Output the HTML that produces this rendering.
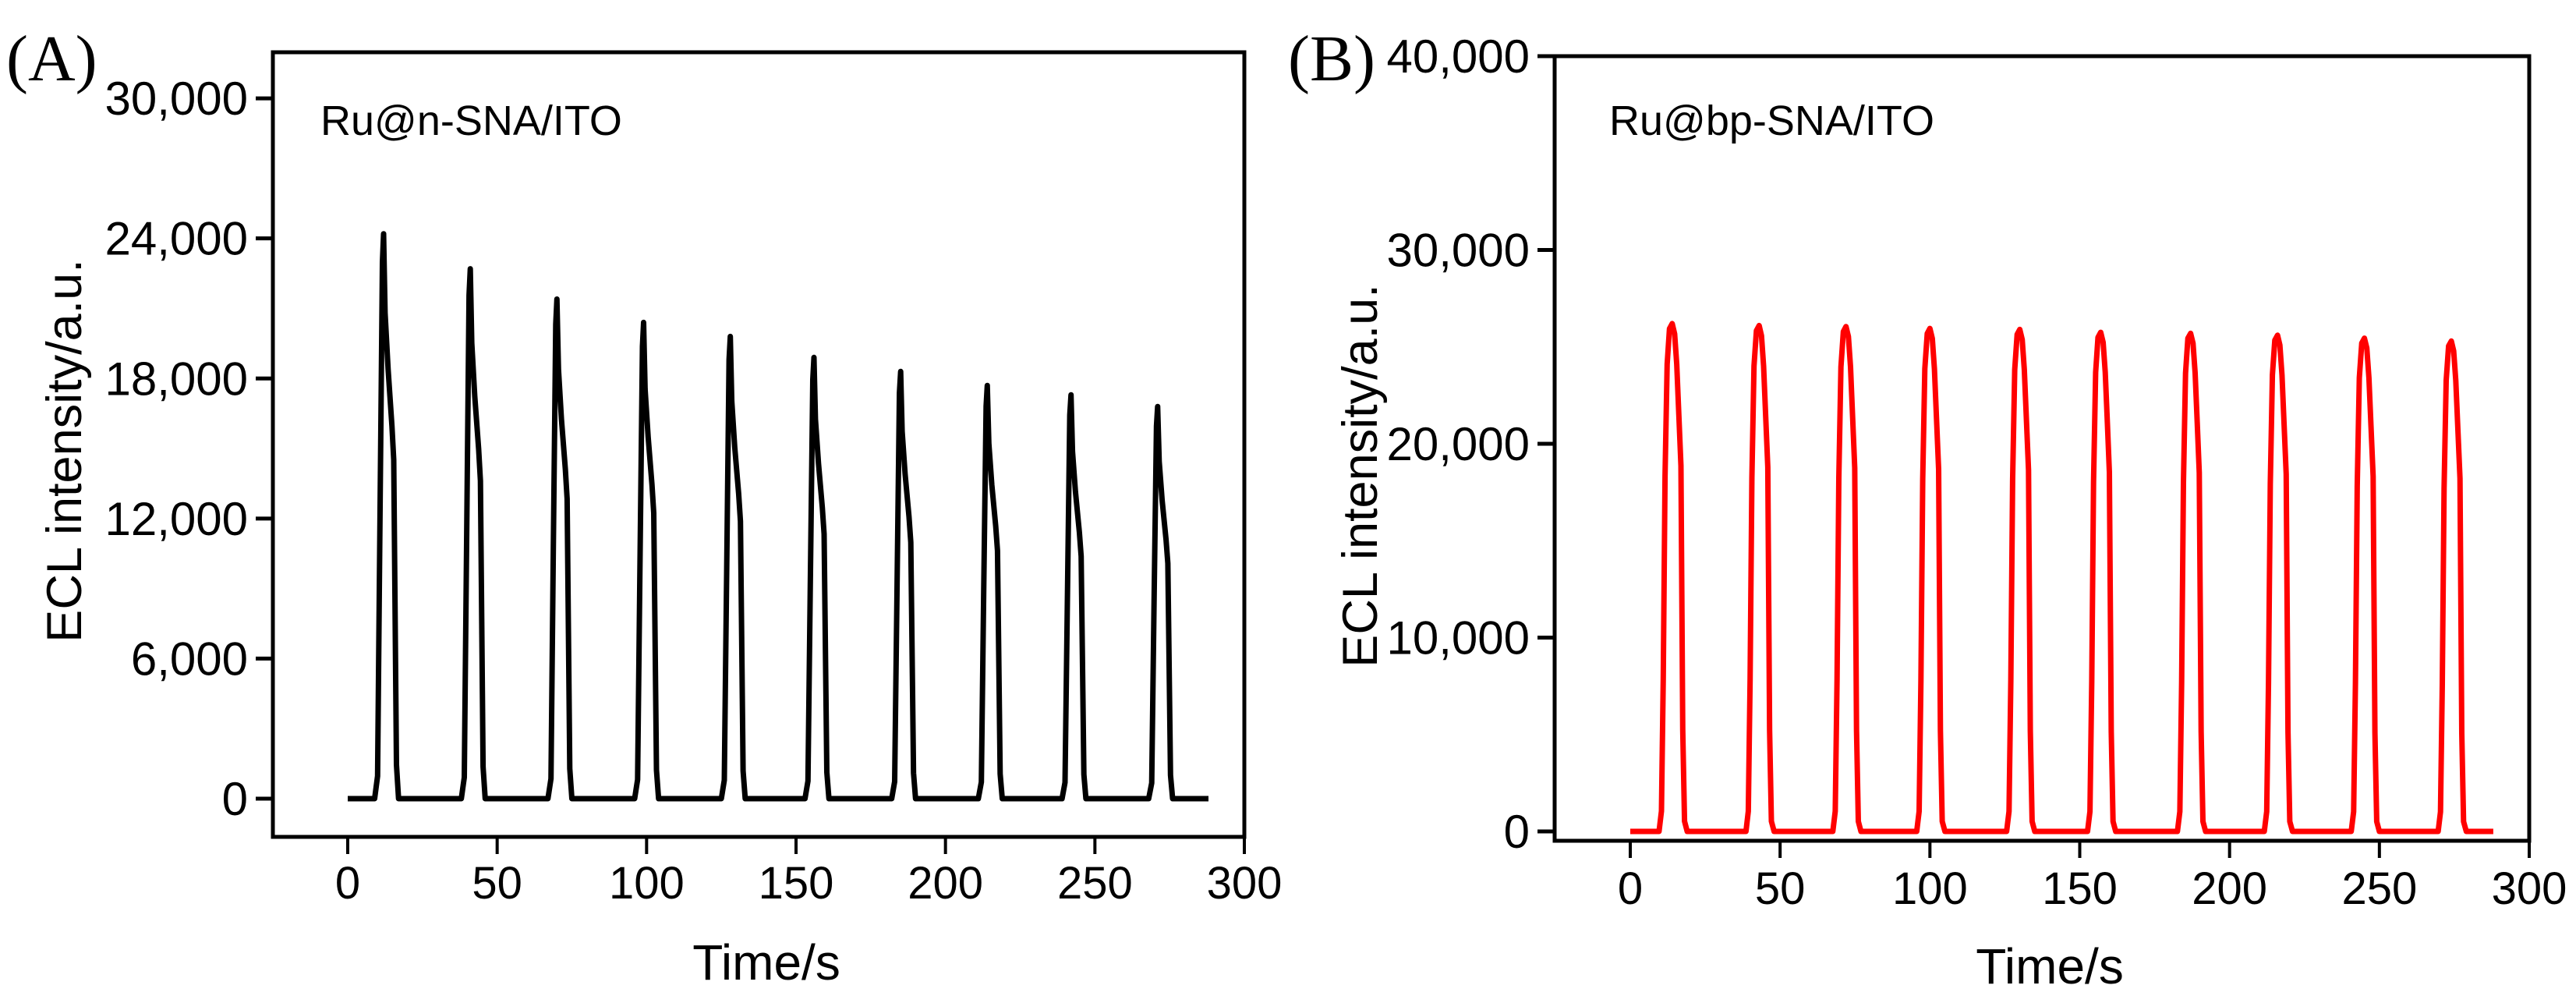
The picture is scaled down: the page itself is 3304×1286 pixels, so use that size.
<!DOCTYPE html>
<html><head><meta charset="utf-8"><style>
html,body{margin:0;padding:0;background:#fff;}
svg{display:block;font-family:"Liberation Sans",sans-serif;}
</style></head><body>
<svg id="fig" width="3304" height="1286" viewBox="0 0 3304 1286">
<rect width="3304" height="1286" fill="#fff"/>
<g id="pA"></g>
<g id="pB"></g>
</svg>
<script>
// ---- data ----
const xTicks = [0, 50, 100, 150, 200, 250, 300];
const yTicksA = [0, 6000, 12000, 18000, 24000, 30000];
const yTicksB = [0, 10000, 20000, 30000, 40000];
const peakTimesA = [12, 41, 70, 99, 128, 156, 185, 214, 242, 271];
const peakHeightsA = [24200, 22700, 21400, 20400, 19800, 18900, 18300, 17700, 17300, 16800];
const peakTimesB = [14, 43, 72, 100, 130, 157, 187, 216, 245, 274];
const peakHeightsB = [26200, 26100, 26050, 25950, 25900, 25750, 25700, 25600, 25450, 25300];
const tStart = 0, tEnd = 288;

const NS = "http://www.w3.org/2000/svg";
function mk(parent, tag, attrs, text){
  const e = document.createElementNS(NS, tag);
  for (const k in attrs) e.setAttribute(k, attrs[k]);
  if (text !== undefined) e.textContent = text;
  parent.appendChild(e);
  return e;
}
function fmt(v){ return v.toLocaleString("en-US"); }

// peak shape templates (dt seconds, fraction of peak)
const shapeA = [[-3,0],[-2,0.04],[-1.2,0.5],[-0.4,0.95],[0,1],[0.5,0.86],[1.5,0.76],[2.8,0.66],[3.4,0.6],[4.3,0.06],[5,0]];
const shapeB = [[-4.4,0],[-3.6,0.04],[-3,0.3],[-2.4,0.7],[-1.7,0.92],[-0.9,0.99],[0,1],[0.8,0.98],[1.5,0.92],[2.2,0.82],[2.9,0.72],[3.5,0.2],[4.1,0.02],[5,0]];

function panel(gid, cfg){
  const g = document.getElementById(gid);
  const X = t => cfg.x0 + (t - 0) * (cfg.x300 - cfg.x0) / 300;
  const Y = v => cfg.y0 - v * cfg.pxPer;
  const box = mk(g, "rect", {x:cfg.left, y:cfg.top, width:cfg.right-cfg.left, height:cfg.bottom-cfg.top, fill:"none", stroke:"#000", "stroke-width":5});
  
  
  xTicks.forEach(t => {
    const tk = mk(g, "line", {x1:X(t), x2:X(t), y1:cfg.bottom, y2:cfg.bottom+22, stroke:"#000", "stroke-width":4});
    
    
    const lb = mk(g, "text", {x:X(t), y:cfg.xLabelY, "font-size":58, "text-anchor":"middle"}, t);
    
    
  });
  cfg.yTicks.forEach(v => {
    const tk = mk(g, "line", {x1:cfg.left-22, x2:cfg.left, y1:Y(v), y2:Y(v), stroke:"#000", "stroke-width":5});
    
    
    const lb = mk(g, "text", {x:cfg.left-32, y:Y(v)+21, "font-size":60, "text-anchor":"end"}, fmt(v));
    
    
  });
  const pts = [[tStart,0]];
  cfg.times.forEach((tp,i) => {
    cfg.shape.forEach(s => pts.push([tp + s[0], s[1]*cfg.heights[i]]));
  });
  pts.push([tEnd,0]);
  const d = pts.map((p,i)=>(i?"L":"M")+X(p[0]).toFixed(1)+" "+Y(p[1]).toFixed(1)).join(" ");
  const path = mk(g, "path", {d:d, fill:"none", stroke:cfg.color, "stroke-width":7, "stroke-linejoin":"round"});
  
  
  const xt = mk(g, "text", {x:(cfg.left+cfg.right)/2+10, y:cfg.xTitleY, "font-size":64, "text-anchor":"middle"}, "Time/s");
  
  
  const yt = mk(g, "text", {x:0, y:0, "font-size":63, "text-anchor":"middle", transform:`translate(${cfg.yTitleX},${cfg.yTitleY}) rotate(-90)`}, "ECL intensity/a.u.");
  
  
  const an = mk(g, "text", {x:cfg.annX, y:173, "font-size":54}, cfg.ann);
  
  
  const pl = mk(g, "text", {x:cfg.plX, y:103, "font-size":84, "font-family":"Liberation Serif, serif"}, cfg.panelLabel);
  
  
}

panel("pA", {left:350, right:1596, top:67, bottom:1073, x0:446, x300:1596, y0:1024, pxPer:0.02993,
  yTicks:yTicksA, times:peakTimesA, heights:peakHeightsA, shape:shapeA, color:"#000",
  xLabelY:1152, xTitleY:1256, yTitleX:104, yTitleY:578, ann:"Ru@n-SNA/ITO", annX:411, plX:8, panelLabel:"(A)"});
panel("pB", {left:1994, right:3244, top:72, bottom:1078, x0:2091, x300:3244, y0:1066, pxPer:0.02485,
  yTicks:yTicksB, times:peakTimesB, heights:peakHeightsB, shape:shapeB, color:"#ff0000",
  xLabelY:1159, xTitleY:1261, yTitleX:1766, yTitleY:610, ann:"Ru@bp-SNA/ITO", annX:2064, plX:1652, panelLabel:"(B)"});
</script>
</body></html>
